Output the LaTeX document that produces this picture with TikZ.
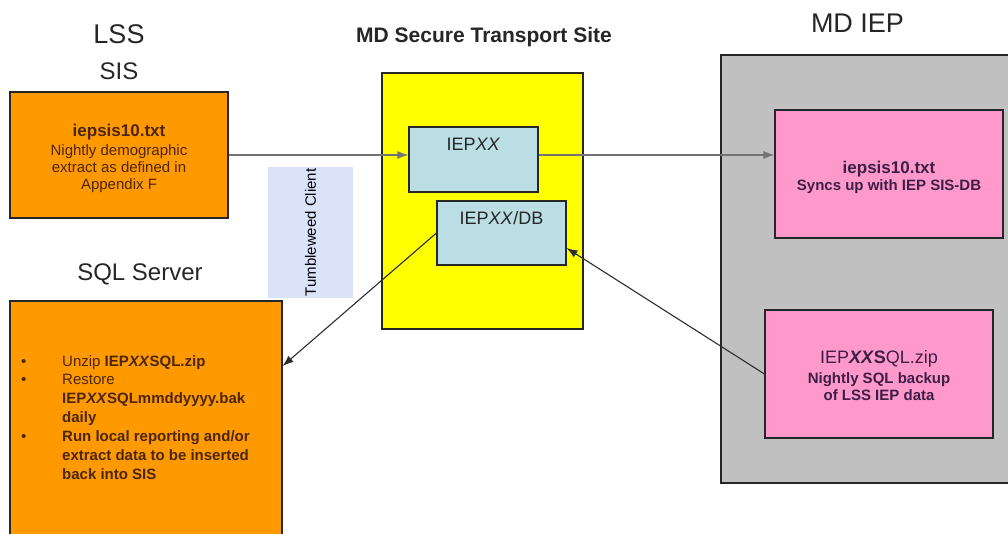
\documentclass[tikz,border=0pt]{standalone}
\usepackage{fontspec}
\setmainfont{Liberation Sans}
\usetikzlibrary{positioning,arrows.meta}
\definecolor{boxorange}{RGB}{255,153,0}
\definecolor{boxyellow}{RGB}{255,255,0}
\definecolor{boxcyan}{RGB}{186,222,228}
\definecolor{boxgrey}{RGB}{192,192,192}
\definecolor{boxpink}{RGB}{255,153,204}
\definecolor{boxlavender}{RGB}{219,227,250}
\definecolor{boxline}{RGB}{38,38,38}
\definecolor{txtorange}{RGB}{75,38,10}
\definecolor{txtpink}{RGB}{60,30,70}
\definecolor{linegrey}{RGB}{115,115,115}
\definecolor{linedark}{RGB}{45,45,45}

\begin{document}
\begin{tikzpicture}[x=1pt, y=-1pt]
% Definition of blocks:
\tikzset{%
  box/.style      = {draw=boxline, line width=1.1pt, rectangle, inner sep=0pt},
  lssbox/.style   = {box, fill=boxorange, text=txtorange, align=center, font=\fontsize{15}{17}\selectfont},
  sitebox/.style  = {box, fill=boxyellow},
  folder/.style   = {box, fill=boxcyan},
  iepbox/.style   = {box, fill=boxgrey},
  filebox/.style  = {box, fill=boxpink, text=txtpink, align=center, font=\bfseries\fontsize{15}{17}\selectfont},
  client/.style   = {rectangle, fill=boxlavender, inner sep=0pt, font=\fontsize{15}{17}\selectfont}, % Tumbleweed
  title/.style    = {inner sep=0pt, text=black!85},
  flow/.style     = {-{Latex[length=11pt,width=8pt]}, line width=1.3pt, draw=linegrey},
  sync/.style     = {-{Latex[length=11pt,width=8pt]}, line width=1.1pt, draw=linedark}
}
\useasboundingbox (0,0) rectangle (1008,533);
\draw
	node [lssbox, minimum width=218pt, minimum height=126pt] (sisbox) at (119,155)
		{{\bfseries\fontsize{17}{17}\selectfont\rule{0pt}{19.5pt}iepsis10.txt}\\[2.5pt]Nightly demographic\\extract as defined in\\Appendix F}
	node [lssbox, minimum width=272pt, minimum height=235pt] (sqlbox) at (146,418.5) {}
	node [sitebox, minimum width=201pt, minimum height=256pt] (site) at (482.5,201) {}
	node [folder, minimum width=129pt, minimum height=65pt] (iepxx) at (473.5,159.5) {}
	node [folder, minimum width=129pt, minimum height=64pt] (iepdb) at (501.5,233) {}
	node [client, rotate=90, minimum width=131pt, minimum height=85pt] (tumble) at (310.5,232.5) {Tumbleweed Client}
	node [iepbox, minimum width=294pt, minimum height=428pt] (mdiep) at (868,269) {}
	node [filebox, minimum width=228pt, minimum height=128pt] (syncfile) at (889,174)
		{{\fontsize{17}{17}\selectfont\rule{0pt}{18.5pt}iepsis10.txt}\\Syncs up with IEP SIS-DB}
	node [filebox, minimum width=228pt, minimum height=128pt] (zipfile) at (879,374)
		{{\mdseries\fontsize{18}{16}\selectfont\rule{0pt}{16pt}IEP\textbf{\textit{XX}S}QL.zip}\\[3.5pt]Nightly SQL backup\\of LSS IEP data};

% titles
\node [title, font=\fontsize{24}{24}\selectfont, above=11.5pt of sisbox] (sis) {SIS};
\node [title, font=\fontsize{27}{27}\selectfont, above=18.5pt of sis] (lss) {LSS};
\node [title, font=\fontsize{24}{24}\selectfont, above=15.5pt of sqlbox, xshift=-6pt] (sqlsrv) {SQL Server};
\node [title, font=\bfseries\fontsize{21}{21}\selectfont, above=25.5pt of site, xshift=1.5pt] (sitettl) {MD Secure Transport Site};
\node [title, font=\fontsize{27}{27}\selectfont, above=22pt of mdiep, xshift=-10.5pt] (iepttl) {MD IEP};

% folder names
\node [title, font=\fontsize{18}{18}\selectfont] (xxname) at ([yshift=-18pt]iepxx.north) {IEP\textit{XX}};
\node [title, font=\fontsize{18}{18}\selectfont] (dbname) at ([yshift=-18pt]iepdb.north) {IEP\textit{XX}/DB};

% restore steps
\node [title, text=txtorange, anchor=north west, align=left, font=\fontsize{15}{18.9}\selectfont] (steps) at (21,355)
	{\makebox[41pt][l]{\textbullet}Unzip \textbf{IEP\textit{XX}SQL.zip}\\
	 \makebox[41pt][l]{\textbullet}Restore\\
	 \hspace*{41pt}\textbf{IEP\textit{XX}SQLmmddyyyy.bak}\\
	 \hspace*{41pt}\textbf{daily}\\
	 \makebox[41pt][l]{\textbullet}\textbf{Run local reporting and/or}\\
	 \hspace*{41pt}\textbf{extract data to be inserted}\\
	 \hspace*{41pt}\textbf{back into SIS}};

\draw[flow] (sisbox.east) -- (sisbox.east -| iepxx.west);
\draw[flow] (sisbox.east -| iepxx.east) -- (sisbox.east -| syncfile.west);
\draw[sync] (iepdb.west) -- (sqlbox.21.8);
\draw[sync] (zipfile.west) -- (iepdb.-13);
%
\end{tikzpicture}
\end{document}
